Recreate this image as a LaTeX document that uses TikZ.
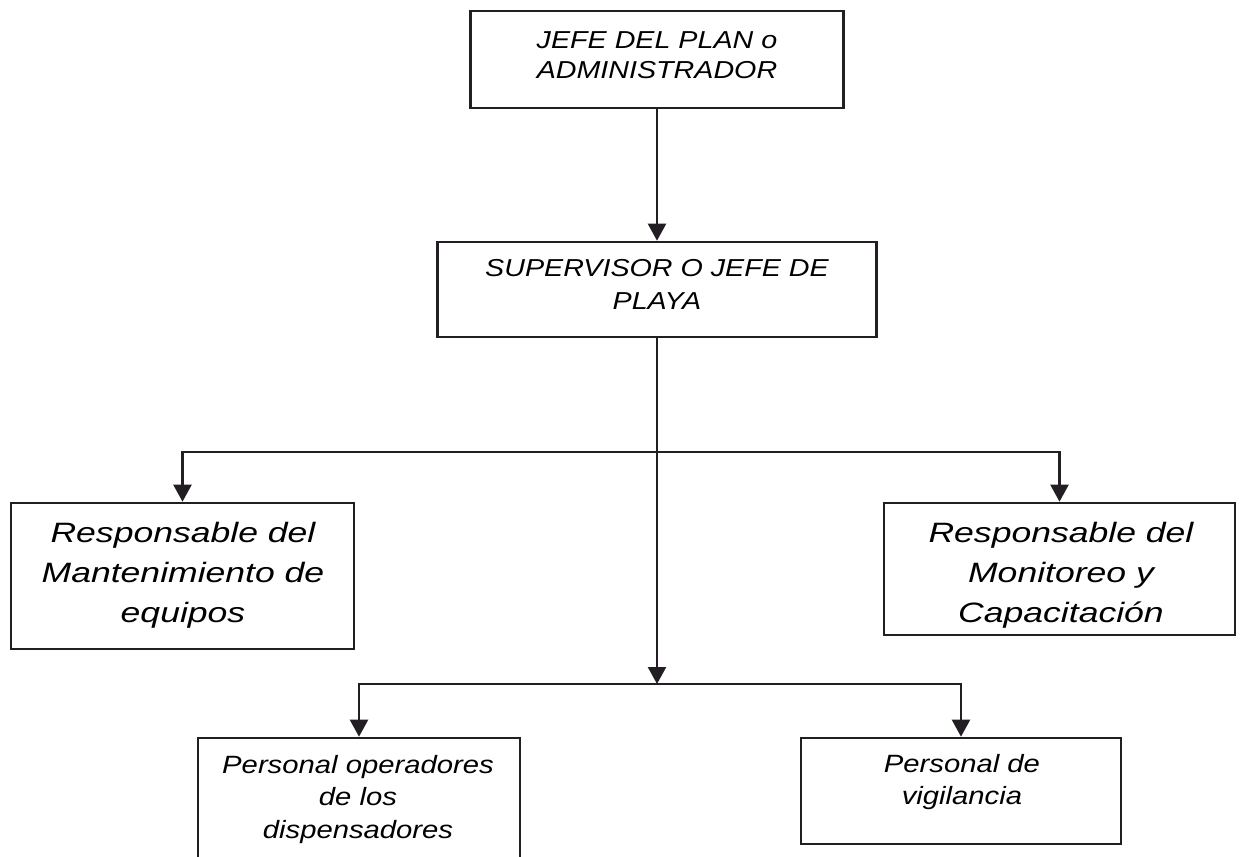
\documentclass[tikz,border=0pt]{standalone}
\usepackage{fontspec}
\setmainfont{Liberation Sans}
\newfontfamily\fA[FakeStretch=1.17]{Liberation Sans}
\newfontfamily\fB[FakeStretch=1.27]{Liberation Sans}
\usetikzlibrary{arrows.meta}
\definecolor{ink}{RGB}{35,30,35}
\begin{document}
\begin{tikzpicture}[x=1pt,y=-1pt,
  box/.style={draw=ink, line width=2.6pt, inner sep=0pt},
  conn/.style={draw=ink, line width=2.3pt},
  arr/.style={conn, -{Triangle[width=18pt,length=17pt]}},
  lbl/.style={anchor=north, inner sep=0pt, align=center, text=black},
  fsmall/.style={font=\fA\itshape\fontsize{24.5}{30}\selectfont},
  fmid/.style={font=\fA\itshape\fontsize{24.5}{33}\selectfont},
  fbig/.style={font=\fB\itshape\fontsize{28}{40}\selectfont},
  fbot/.style={font=\fA\itshape\fontsize{25}{32.5}\selectfont},
]
\useasboundingbox (0,0) rectangle (1240,857);
\fill[white] (0,0) rectangle (1240,857);
\clip (0,0) rectangle (1240,857);

% boxes
\node[box, minimum width=373pt, minimum height=97pt] (top) at (657,59.5) {};
\node[box, minimum width=439pt, minimum height=95pt] (sup) at (657,289.5) {};
\node[box, minimum width=343pt, minimum height=146pt] (mant) at (182.5,576) {};
\node[box, minimum width=351pt, minimum height=132pt] (mon) at (1059.5,569) {};
\node[box, minimum width=322pt, minimum height=140pt] (oper) at (359,808) {};
\node[box, minimum width=320pt, minimum height=106pt] (vig) at (961,791) {};

% texts
\node[lbl, fsmall] (topt) at (657,31) {JEFE DEL PLAN o\\ADMINISTRADOR};
\node[lbl, fmid] (supt) at (657,259) {SUPERVISOR O JEFE DE\\PLAYA};
\node[lbl, fbig] (mantt) at (183,522) {Responsable del\\Mantenimiento de\\equipos};
\node[lbl, fbig] (mont) at (1061,522) {Responsable del\\Monitoreo y\\Capacitación};
\node[lbl, fbot] (opert) at (358,755) {Personal operadores\\de los\\dispensadores};
\node[lbl, fbot] (vigt) at (962,754) {Personal de\\vigilancia};

% junctions
\coordinate (j1) at (657,452);
\coordinate (j2) at (657,684);

% connectors
\draw[arr] (top.south) -- (sup.north);
\draw[arr] (sup.south) -- (j2);
\draw[arr] (j1) -| (mant.north);
\draw[arr] (j1) -| (mon.north);
\draw[arr] (j2) -| (oper.north);
\draw[arr] (j2) -| (vig.north);
\end{tikzpicture}
\end{document}
